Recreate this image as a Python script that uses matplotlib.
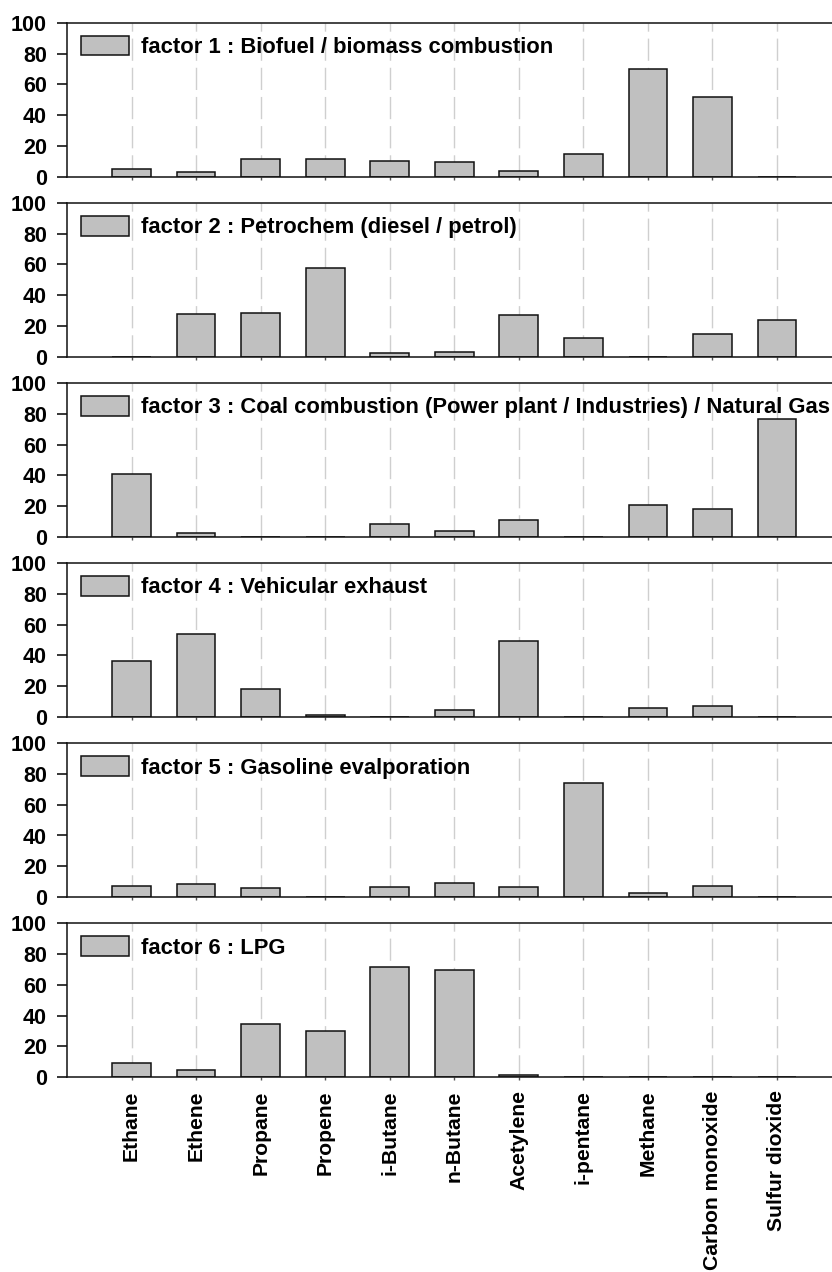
import matplotlib
matplotlib.use("Agg")
from matplotlib import pyplot as plt
import numpy as np

species = ["Ethane", "Ethene", "Propane", "Propene", "i-Butane", "n-Butane",
           "Acetylene", "i-pentane", "Methane", "Carbon monoxide",
           "Sulfur dioxide"]

factor_names = [
    "factor 1 : Biofuel / biomass combustion",
    "factor 2 : Petrochem (diesel / petrol)",
    "factor 3 : Coal combustion (Power plant / Industries) / Natural Gas",
    "factor 4 : Vehicular exhaust",
    "factor 5 : Gasoline evalporation",
    "factor 6 : LPG",
]

# percent contribution of each species to each factor
biofuel = [5.0, 3.3, 11.3, 11.3, 10.4, 9.8, 4.0, 14.5, 70.2, 51.7, 0.0]
petrochem = [0.0, 27.6, 28.7, 57.5, 2.2, 3.2, 27.0, 11.9, 0.0, 14.7, 23.8]
coal = [41.0, 2.4, 0.0, 0.0, 8.4, 3.9, 11.2, 0.0, 20.7, 17.9, 76.7]
vehicular = [36.1, 53.6, 18.1, 1.3, 0.0, 4.3, 49.2, 0.0, 5.6, 7.3, 0.0]
gasoline = [7.4, 8.5, 6.1, 0.0, 6.5, 8.9, 6.7, 73.8, 2.6, 7.4, 0.0]
lpg = [9.3, 4.8, 34.8, 29.9, 71.6, 69.9, 1.5, 0.0, 0.0, 0.0, 0.0]

factors = [biofuel, petrochem, coal, vehicular, gasoline, lpg]

font = "Liberation Sans"
W, H = 832, 1272
fig = plt.figure(figsize=(W / 100, H / 100), dpi=100)

x = np.arange(len(species))
left_px, right_px = 67, 841.5
top_px, step_px, height_px = 22.7, 180.1, 154.0

for i, (vals, name) in enumerate(zip(factors, factor_names)):
    top = top_px + i * step_px
    ax = fig.add_axes([left_px / W, 1 - (top + height_px) / H,
                       (right_px - left_px) / W, height_px / H])
    bars = ax.bar(x, vals, width=0.6, color="#c0c0c0", edgecolor="#111111",
                  linewidth=1.1, zorder=2)
    ax.set_xlim(-1, 11)
    ax.set_ylim(0, 100)
    ax.set_axisbelow(True)
    ax.set_xticks(x)
    ax.xaxis.grid(True, color="#cfcfcf", linewidth=1.0, dashes=(16, 5))
    ax.set_yticks(np.arange(0, 101, 20))
    ax.tick_params(axis="y", direction="out", length=7, width=1.1,
                   pad=7.5, labelsize=15.5)
    ax.tick_params(axis="x", direction="out", length=2.4, width=1,
                   color="#555555", labelsize=15)
    for lab in ax.get_yticklabels():
        lab.set_fontfamily(font)
        lab.set_fontweight("bold")
    if i == len(factors) - 1:
        ax.set_xticklabels(species, rotation=90, fontfamily=font,
                           fontweight="bold", fontsize=15.2)
        ax.tick_params(axis="x", pad=7)
    else:
        ax.set_xticklabels([])
    for side in ["left", "bottom", "top"]:
        ax.spines[side].set_linewidth(1.1)
        ax.spines[side].set_color("#111111")
    ax.spines["right"].set_visible(False)
    ax.legend([bars], [name], loc="upper left", bbox_to_anchor=(0.018, 0.915),
              frameon=False, borderpad=0, borderaxespad=0,
              handlelength=2.2, handleheight=1.0, handletextpad=0.55,
              prop={"family": font, "weight": "bold", "size": 15.8})

fig.savefig("out.png", dpi=100)
